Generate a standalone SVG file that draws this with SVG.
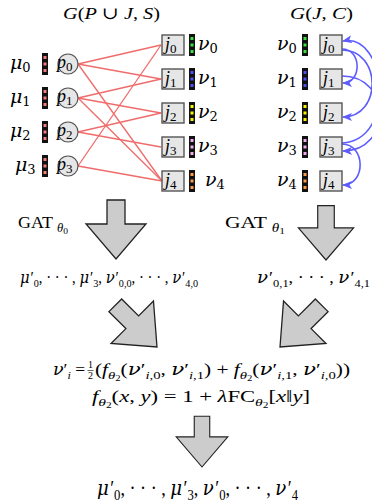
<svg xmlns="http://www.w3.org/2000/svg" width="372" height="503" viewBox="0 0 372 503">
<style>
text{font-family:"Liberation Serif","DejaVu Serif",serif;fill:#000}
.i{font-style:italic}
.n{font-style:normal}
.g{font-family:"DejaVu Serif","Liberation Serif",serif;font-style:italic}
.e{stroke:#f06b6b;stroke-width:1.3;fill:none}
.c{stroke:#5d5dff;stroke-width:1.6;fill:none;marker-end:url(#ah)}
.bar{fill:#111}
.box{fill:#e6e6e6;stroke:#555;stroke-width:1.4}
.cir{fill:#e6e6e6;stroke:#555;stroke-width:1.2}
.ga{fill:#cccccc;stroke:#222;stroke-width:1.3}
.dr{fill:#f47c7c}.dg{fill:#3de03d}.db{fill:#5050f0}.dy{fill:#f5f500}.dp{fill:#f0aaf0}.do{fill:#ff9a44}
</style>
<defs>
<marker id="ah" markerWidth="10" markerHeight="8" refX="9" refY="4" orient="auto" markerUnits="userSpaceOnUse"><path d="M0,0 L10,4 L0,8 L2.5,4 z" fill="#5d5dff"/></marker>
<path id="darr" d="M-9,-59 L9,-59 L9,-35 L30,-35 L0,0 L-30,-35 L-9,-35 Z"/>
<g id="bR"><rect class="bar" x="0" y="-11" width="6" height="22"/><rect class="dr" x="1.5" y="-8" width="3" height="3"/><rect class="dr" x="1.5" y="-1.5" width="3" height="3"/><rect class="dr" x="1.5" y="5" width="3" height="3"/></g>
<g id="bG"><rect class="bar" x="0" y="-11" width="6" height="22"/><rect class="dg" x="1.5" y="-8" width="3" height="3"/><rect class="dg" x="1.5" y="-1.5" width="3" height="3"/><rect class="dg" x="1.5" y="5" width="3" height="3"/></g>
<g id="bB"><rect class="bar" x="0" y="-11" width="6" height="22"/><rect class="db" x="1.5" y="-8" width="3" height="3"/><rect class="db" x="1.5" y="-1.5" width="3" height="3"/><rect class="db" x="1.5" y="5" width="3" height="3"/></g>
<g id="bY"><rect class="bar" x="0" y="-11" width="6" height="22"/><rect class="dy" x="1.5" y="-8" width="3" height="3"/><rect class="dy" x="1.5" y="-1.5" width="3" height="3"/><rect class="dy" x="1.5" y="5" width="3" height="3"/></g>
<g id="bP"><rect class="bar" x="0" y="-11" width="6" height="22"/><rect class="dp" x="1.5" y="-8" width="3" height="3"/><rect class="dp" x="1.5" y="-1.5" width="3" height="3"/><rect class="dp" x="1.5" y="5" width="3" height="3"/></g>
<g id="bO"><rect class="bar" x="0" y="-11" width="6" height="22"/><rect class="do" x="1.5" y="-8" width="3" height="3"/><rect class="do" x="1.5" y="-1.5" width="3" height="3"/><rect class="do" x="1.5" y="5" width="3" height="3"/></g>
</defs>

<!-- titles -->
<text x="63" y="19" font-size="17" textLength="97" lengthAdjust="spacingAndGlyphs"><tspan class="i">G</tspan>(<tspan class="i">P</tspan> ∪ <tspan class="i">J</tspan>, <tspan class="i">S</tspan>)</text>
<text x="290" y="19" font-size="17" textLength="63" lengthAdjust="spacingAndGlyphs"><tspan class="i">G</tspan>(<tspan class="i">J</tspan>, <tspan class="i">C</tspan>)</text>

<!-- connectors -->
<g id="connectors">
<line class="e" x1="78" y1="64" x2="161" y2="45"/>
<line class="e" x1="78" y1="64" x2="161" y2="79"/>
<line class="e" x1="78" y1="64" x2="162" y2="181"/>
<line class="e" x1="78" y1="98" x2="161" y2="79"/>
<line class="e" x1="78" y1="98" x2="161" y2="113"/>
<line class="e" x1="78" y1="98" x2="162" y2="181"/>
<line class="e" x1="78" y1="132" x2="161" y2="113"/>
<line class="e" x1="78" y1="132" x2="161" y2="147"/>
<line class="e" x1="78" y1="166" x2="161" y2="45"/>
<line class="e" x1="78" y1="166" x2="162" y2="181"/>
<path class="c" d="M342,49 C362,49 362,83 343,83"/>
<path class="c" d="M342,50 C382,50 382,117 343,117"/>
<path class="c" d="M342,76 C392,76 392,151 343,151"/>
<path class="c" d="M342,143 C398,140 386,32 343,41"/>
<path class="c" d="M342,144 C366,144 366,185 343,185"/>
</g>

<!-- P nodes -->
<g id="p0"><text x="10" y="69" class="g" font-size="19">μ<tspan class="n" font-size="13" dy="3">0</tspan></text><use href="#bR" x="42" y="64"/><circle class="cir" cx="68" cy="64" r="10"/><text x="57" y="68" class="i" font-size="18">p<tspan class="n" font-size="13" dy="3">0</tspan></text></g>
<g id="p1"><text x="10" y="103" class="g" font-size="19">μ<tspan class="n" font-size="13" dy="3">1</tspan></text><use href="#bR" x="42" y="98"/><circle class="cir" cx="68" cy="98" r="10"/><text x="57" y="102" class="i" font-size="18">p<tspan class="n" font-size="13" dy="3">1</tspan></text></g>
<g id="p2"><text x="10" y="137" class="g" font-size="19">μ<tspan class="n" font-size="13" dy="3">2</tspan></text><use href="#bR" x="42" y="132"/><circle class="cir" cx="68" cy="132" r="10"/><text x="57" y="136" class="i" font-size="18">p<tspan class="n" font-size="13" dy="3">2</tspan></text></g>
<g id="p3"><text x="15" y="171" class="g" font-size="19">μ<tspan class="n" font-size="13" dy="3">3</tspan></text><use href="#bR" x="42" y="166"/><circle class="cir" cx="68" cy="166" r="10"/><text x="57" y="170" class="i" font-size="18">p<tspan class="n" font-size="13" dy="3">3</tspan></text></g>

<!-- J nodes (left graph) -->
<g id="jl0"><rect class="box" x="162" y="35" width="22" height="20"/><text x="165" y="50" class="i" font-size="18">j<tspan class="n" font-size="13" dy="3">0</tspan></text><use href="#bG" x="189" y="45"/><text x="198" y="50" class="g" font-size="19">ν<tspan class="n" font-size="13" dy="3">0</tspan></text></g>
<g id="jl1"><rect class="box" x="162" y="69" width="22" height="20"/><text x="165" y="84" class="i" font-size="18">j<tspan class="n" font-size="13" dy="3">1</tspan></text><use href="#bB" x="189" y="79"/><text x="198" y="84" class="g" font-size="19">ν<tspan class="n" font-size="13" dy="3">1</tspan></text></g>
<g id="jl2"><rect class="box" x="162" y="103" width="22" height="20"/><text x="165" y="118" class="i" font-size="18">j<tspan class="n" font-size="13" dy="3">2</tspan></text><use href="#bY" x="189" y="113"/><text x="198" y="118" class="g" font-size="19">ν<tspan class="n" font-size="13" dy="3">2</tspan></text></g>
<g id="jl3"><rect class="box" x="162" y="137" width="22" height="20"/><text x="165" y="152" class="i" font-size="18">j<tspan class="n" font-size="13" dy="3">3</tspan></text><use href="#bP" x="189" y="147"/><text x="198" y="152" class="g" font-size="19">ν<tspan class="n" font-size="13" dy="3">3</tspan></text></g>
<g id="jl4"><rect class="box" x="162" y="171" width="22" height="20"/><text x="165" y="186" class="i" font-size="18">j<tspan class="n" font-size="13" dy="3">4</tspan></text><use href="#bO" x="189" y="181"/><text x="205" y="186" class="g" font-size="19">ν<tspan class="n" font-size="13" dy="3">4</tspan></text></g>

<!-- J nodes (right graph) -->
<g id="jr0"><text x="277" y="50" class="g" font-size="19">ν<tspan class="n" font-size="13" dy="3">0</tspan></text><use href="#bG" x="302" y="45"/><rect class="box" x="320" y="35" width="22" height="20"/><text x="323" y="50" class="i" font-size="18">j<tspan class="n" font-size="13" dy="3">0</tspan></text></g>
<g id="jr1"><text x="277" y="84" class="g" font-size="19">ν<tspan class="n" font-size="13" dy="3">1</tspan></text><use href="#bB" x="302" y="79"/><rect class="box" x="320" y="69" width="22" height="20"/><text x="323" y="84" class="i" font-size="18">j<tspan class="n" font-size="13" dy="3">1</tspan></text></g>
<g id="jr2"><text x="277" y="118" class="g" font-size="19">ν<tspan class="n" font-size="13" dy="3">2</tspan></text><use href="#bY" x="302" y="113"/><rect class="box" x="320" y="103" width="22" height="20"/><text x="323" y="118" class="i" font-size="18">j<tspan class="n" font-size="13" dy="3">2</tspan></text></g>
<g id="jr3"><text x="277" y="152" class="g" font-size="19">ν<tspan class="n" font-size="13" dy="3">3</tspan></text><use href="#bP" x="302" y="147"/><rect class="box" x="320" y="137" width="22" height="20"/><text x="323" y="152" class="i" font-size="18">j<tspan class="n" font-size="13" dy="3">3</tspan></text></g>
<g id="jr4"><text x="277" y="186" class="g" font-size="19">ν<tspan class="n" font-size="13" dy="3">4</tspan></text><use href="#bO" x="302" y="181"/><rect class="box" x="320" y="171" width="22" height="20"/><text x="323" y="186" class="i" font-size="18">j<tspan class="n" font-size="13" dy="3">4</tspan></text></g>

<!-- big arrows -->
<g id="arrows">
<use href="#darr" class="ga" transform="translate(116,259)"/>
<use href="#darr" class="ga" transform="translate(326,260) scale(0.92)"/>
<use href="#darr" class="ga" transform="translate(157,347) rotate(-45)"/>
<use href="#darr" class="ga" transform="translate(280,347) rotate(45)"/>
<use href="#darr" class="ga" transform="translate(202,467) scale(0.86)"/>
</g>

<!-- GAT labels -->
<text x="18" y="228" font-size="17" textLength="50" lengthAdjust="spacingAndGlyphs">GAT <tspan class="i" font-size="12" dy="4">θ</tspan><tspan font-size="9" dy="2">0</tspan></text>
<text x="225" y="228" font-size="17" textLength="60" lengthAdjust="spacingAndGlyphs">GAT <tspan class="i" font-size="12" dy="4">θ</tspan><tspan font-size="9" dy="2">1</tspan></text>

<!-- intermediate outputs -->
<text x="20" y="283" font-size="16" textLength="178" lengthAdjust="spacingAndGlyphs"><tspan class="g">μ</tspan><tspan dx="1">′</tspan><tspan font-size="11" dy="4">0</tspan><tspan dy="-4">, · · · , </tspan><tspan class="g">μ</tspan><tspan dx="1">′</tspan><tspan font-size="11" dy="4">3</tspan><tspan dy="-4">, </tspan><tspan class="g">ν</tspan><tspan dx="1">′</tspan><tspan font-size="11" dy="4">0,0</tspan><tspan dy="-4">, · · · , </tspan><tspan class="g">ν</tspan><tspan dx="1">′</tspan><tspan font-size="11" dy="4">4,0</tspan></text>
<text x="257" y="283" font-size="16" textLength="113" lengthAdjust="spacingAndGlyphs"><tspan class="g">ν</tspan><tspan dx="1">′</tspan><tspan font-size="11" dy="4">0,1</tspan><tspan dy="-4">, · · · , </tspan><tspan class="g">ν</tspan><tspan dx="1">′</tspan><tspan font-size="11" dy="4">4,1</tspan></text>

<!-- fusion equation -->
<text x="53" y="375" font-size="16" textLength="32" lengthAdjust="spacingAndGlyphs"><tspan class="g">ν</tspan>′<tspan class="i" font-size="11" dy="4">i</tspan><tspan dy="-4"> =</tspan></text>
<text x="90.5" y="368" font-size="10" text-anchor="middle">1</text>
<line x1="87.5" y1="370.5" x2="93.5" y2="370.5" stroke="#000" stroke-width="0.6"/>
<text x="90.5" y="379" font-size="10" text-anchor="middle">2</text>
<text x="95" y="375" font-size="16" textLength="255" lengthAdjust="spacingAndGlyphs">(<tspan class="i">f</tspan><tspan class="i" font-size="11" dy="4">θ</tspan><tspan font-size="8" dy="2">2</tspan><tspan dy="-6">(</tspan><tspan class="g">ν</tspan>′<tspan font-size="11" dy="4"><tspan class="i">i</tspan>,0</tspan><tspan dy="-4">, </tspan><tspan class="g">ν</tspan>′<tspan font-size="11" dy="4"><tspan class="i">i</tspan>,1</tspan><tspan dy="-4">) + </tspan><tspan class="i">f</tspan><tspan class="i" font-size="11" dy="4">θ</tspan><tspan font-size="8" dy="2">2</tspan><tspan dy="-6">(</tspan><tspan class="g">ν</tspan>′<tspan font-size="11" dy="4"><tspan class="i">i</tspan>,1</tspan><tspan dy="-4">, </tspan><tspan class="g">ν</tspan>′<tspan font-size="11" dy="4"><tspan class="i">i</tspan>,0</tspan><tspan dy="-4">))</tspan></text>
<text x="92" y="402" font-size="16" textLength="218" lengthAdjust="spacingAndGlyphs"><tspan class="i">f</tspan><tspan class="i" font-size="11" dy="4">θ</tspan><tspan font-size="8" dy="2">2</tspan><tspan dy="-6">(</tspan><tspan class="i">x</tspan>, <tspan class="i">y</tspan>) = 1 + <tspan class="i">λ</tspan>FC<tspan class="i" font-size="11" dy="4">θ</tspan><tspan font-size="8" dy="2">2</tspan><tspan dy="-6">[</tspan><tspan class="i">x</tspan>‖<tspan class="i">y</tspan>]</text>

<!-- final output -->
<text x="97" y="495" font-size="20" textLength="201" lengthAdjust="spacingAndGlyphs"><tspan class="g">μ</tspan><tspan dx="1.5">′</tspan><tspan font-size="14" dy="5">0</tspan><tspan dy="-5">, · · · , </tspan><tspan class="g">μ</tspan><tspan dx="1.5">′</tspan><tspan font-size="14" dy="5">3</tspan><tspan dy="-5">, </tspan><tspan class="g">ν</tspan><tspan dx="1.5">′</tspan><tspan font-size="14" dy="5">0</tspan><tspan dy="-5">, · · · , </tspan><tspan class="g">ν</tspan><tspan dx="1.5">′</tspan><tspan font-size="14" dy="5">4</tspan></text>
</svg>
